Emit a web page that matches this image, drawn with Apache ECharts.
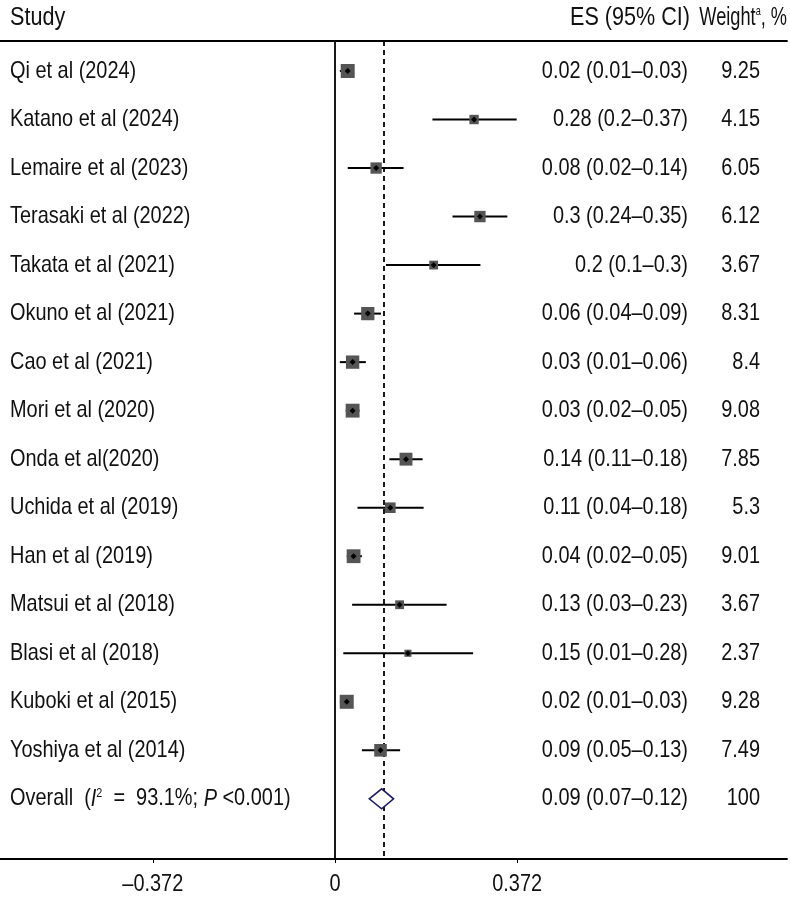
<!DOCTYPE html>
<html>
<head>
<meta charset="utf-8">
<script src="https://cdn.jsdelivr.net/npm/echarts@6/dist/echarts.min.js"></script>
<style>
html,body{margin:0;padding:0;background:#fff;}
#chart{width:790px;height:899px;}
</style>
</head>
<body>
<div id="chart"></div>
<script>
// ---- Data ----
const studies = ["Qi et al (2024)","Katano et al (2024)","Lemaire et al (2023)","Terasaki et al (2022)","Takata et al (2021)","Okuno et al (2021)","Cao et al (2021)","Mori et al (2020)","Onda et al(2020)","Uchida et al (2019)","Han et al (2019)","Matsui et al (2018)","Blasi et al (2018)","Kuboki et al (2015)","Yoshiya et al (2014)"];
const esPoint = [0.026,0.284,0.084,0.296,0.2015,0.067,0.036,0.036,0.145,0.113,0.038,0.132,0.149,0.024,0.093];
const ciLow   = [0.010,0.199,0.026,0.240,0.104,0.039,0.010,0.022,0.111,0.046,0.024,0.035,0.017,0.010,0.055];
const ciHigh  = [0.030,0.371,0.140,0.352,0.297,0.094,0.063,0.050,0.179,0.181,0.055,0.228,0.282,0.030,0.133];
const esText = ["0.02 (0.01\u20130.03)","0.28 (0.2\u20130.37)","0.08 (0.02\u20130.14)","0.3 (0.24\u20130.35)","0.2 (0.1\u20130.3)","0.06 (0.04\u20130.09)","0.03 (0.01\u20130.06)","0.03 (0.02\u20130.05)","0.14 (0.11\u20130.18)","0.11 (0.04\u20130.18)","0.04 (0.02\u20130.05)","0.13 (0.03\u20130.23)","0.15 (0.01\u20130.28)","0.02 (0.01\u20130.03)","0.09 (0.05\u20130.13)"];
const weights = [9.25,4.15,6.05,6.12,3.67,8.31,8.4,9.08,7.85,5.3,9.01,3.67,2.37,9.28,7.49];
const weightText = ["9.25","4.15","6.05","6.12","3.67","8.31","8.4","9.08","7.85","5.3","9.01","3.67","2.37","9.28","7.49"];
const overallES = 0.0953, overallLow = 0.070, overallHigh = 0.1196;
const overallText = "0.09 (0.07\u20130.12)", overallWeight = "100";
const tickValues = [-0.372, 0, 0.372];
const tickLabels = ["\u20130.372", "0", "0.372"];

// ---- Chart ----
const FONT = "'Liberation Sans Narrow','Liberation Sans',Arial,sans-serif";
const FS = 24;
const SX = 0.83;
const chart = echarts.init(document.getElementById('chart'));

const studyData = studies.map((s, i) => [esPoint[i], i, ciLow[i], ciHigh[i], weights[i]]);
const textData = studies.map((s, i) => [0, i]);
textData.push([0, studies.length]);
const overallRow = studies.length;
const tickData = tickValues.map((v, i) => [v, 16.24]);

function txt(text, x, y, align, extra, sx) {
  return {
    type: 'text', x: x, y: y, scaleX: sx || SX,
    style: Object.assign({text: text, fontFamily: FONT, fontSize: FS, fill: '#111', align: align, verticalAlign: 'middle'}, extra || {})
  };
}

function renderStudy(params, api) {
  const row = api.value(1);
  const c = api.coord([api.value(0), row]);
  const l = api.coord([api.value(2), row]);
  const h = api.coord([api.value(3), row]);
  const s = 4.6 * Math.sqrt(api.value(4));
  return {
    type: 'group',
    children: [
      {type: 'line', shape: {x1: l[0], y1: c[1], x2: h[0], y2: c[1]}, style: {stroke: '#000', lineWidth: 2}},
      {type: 'rect', shape: {x: c[0] - s / 2, y: c[1] - s / 2, width: s, height: s}, style: {fill: '#555555'}},
      {type: 'polygon', shape: {points: [[c[0] - 3, c[1]], [c[0], c[1] - 3], [c[0] + 3, c[1]], [c[0], c[1] + 3]]}, style: {fill: '#000'}}
    ]
  };
}

function renderOverall(params, api) {
  const row = api.value(1);
  const c = api.coord([api.value(0), row]);
  const l = api.coord([api.value(2), row]);
  const h = api.coord([api.value(3), row]);
  const hh = 10;
  return {
    type: 'polygon',
    shape: {points: [[l[0], c[1]], [c[0], c[1] - hh], [h[0], c[1]], [c[0], c[1] + hh]]},
    style: {fill: '#fff', stroke: '#1c1c5c', lineWidth: 1.6}
  };
}

const richBase = {
  n: {fontFamily: FONT, fontSize: FS, fill: '#111'},
  i: {fontFamily: FONT, fontSize: FS, fill: '#111', fontStyle: 'italic'},
  s: {fontFamily: FONT, fontSize: 13, fill: '#111', verticalAlign: 'top', padding: [0, 0, 10, 0]}
};

function renderText(params, api) {
  const row = api.value(1);
  const y = api.coord([0, row])[1];
  const i = params.dataIndex;
  const children = [];
  if (i < studies.length) {
    children.push(txt(studies[i], 10, y, 'left'));
    children.push(txt(esText[i], 688, y, 'right'));
    children.push(txt(weightText[i], 760, y, 'right'));
  } else {
    children.push(txt('{n|Overall  (}{i|I}{s|2}{n|  =  93.1%; }{i|P}{n| <0.001)}', 10, y, 'left', {rich: richBase}));
    children.push(txt(overallText, 688, y, 'right'));
    children.push(txt(overallWeight, 760, y, 'right'));
  }
  return {type: 'group', children: children};
}

function renderTick(params, api) {
  const p = api.coord([api.value(0), api.value(1)]);
  const k = params.dataIndex;
  return txt(tickLabels[k], p[0], p[1] + 25, 'center');
}

const option = {
  animation: false,
  backgroundColor: '#fff',
  grid: {left: 0, right: 3, top: 41, bottom: 40, containLabel: false},
  xAxis: [
    {
      type: 'value', min: -0.684, max: 0.923, position: 'bottom',
      axisLine: {show: true, onZero: false, lineStyle: {color: '#000', width: 1.8}},
      axisTick: {show: true, length: 4, customValues: tickValues, lineStyle: {color: '#000'}},
      axisLabel: {show: false},
      splitLine: {show: false}
    },
    {
      type: 'value', min: -0.684, max: 0.923, position: 'top',
      axisLine: {show: true, onZero: false, lineStyle: {color: '#000', width: 1.8}},
      axisTick: {show: false}, axisLabel: {show: false}, splitLine: {show: false}
    }
  ],
  yAxis: {type: 'value', inverse: true, min: -0.618, max: 16.24, show: false},
  graphic: [
    txt('Study', 10, 18, 'left', {fontSize: 26}),
    txt('ES (95% CI)', 690, 18, 'right', {fontSize: 26}),
    txt('{n|Weight}{s|a}{n|, %}', 787, 18, 'right', {
      rich: {n: {fontFamily: FONT, fontSize: 26, fill: '#111'}, s: {fontFamily: FONT, fontSize: 13, fill: '#111', verticalAlign: 'top', padding: [0, 0, 10, 0]}}
    }, 0.7)
  ],
  series: [
    {
      type: 'custom', name: 'studies', renderItem: renderStudy, data: studyData,
      encode: {x: [0, 2, 3], y: 1}, z: 5,
      markLine: {
        silent: true, symbol: ['none', 'none'], label: {show: false},
        data: [
          {xAxis: 0, lineStyle: {color: '#000', width: 1.8, type: 'solid'}},
          {xAxis: overallES, lineStyle: {color: '#000', width: 1.8, type: [5, 4]}}
        ]
      }
    },
    {
      type: 'custom', name: 'overall', renderItem: renderOverall,
      data: [[overallES, overallRow, overallLow, overallHigh]], encode: {x: [0, 2, 3], y: 1}, z: 6
    },
    {
      type: 'custom', name: 'text', renderItem: renderText, data: textData, encode: {x: 0, y: 1}, z: 7, clip: false
    },
    {
      type: 'custom', name: 'ticks', renderItem: renderTick, data: tickData, encode: {x: 0, y: 1}, z: 7, clip: false
    }
  ]
};
chart.setOption(option);
</script>
</body>
</html>
